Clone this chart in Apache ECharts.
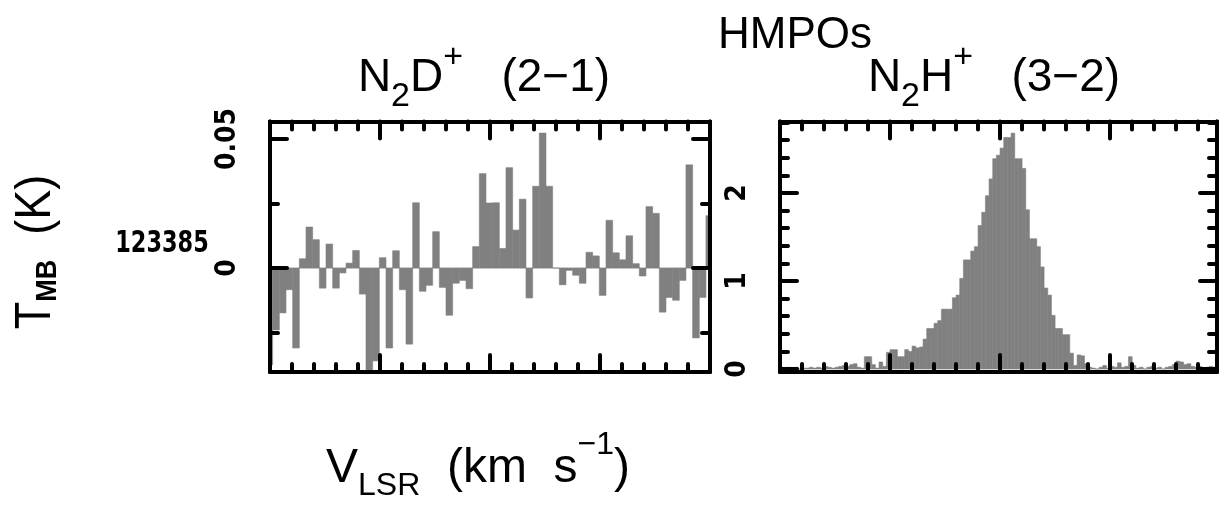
<!DOCTYPE html>
<html>
<head>
<meta charset="utf-8">
<script src="https://cdn.jsdelivr.net/npm/echarts@6/dist/echarts.min.js"></script>
<style>
  html, body { margin: 0; padding: 0; background: #fff; }
  #chart { width: 1227px; height: 506px; }
</style>
</head>
<body>
<div id="chart"></div>
<script>
// N2D+ (2-1) spectrum, one value per channel (K)
const n2dStart = -0.03, n2dStep = 0.303
const n2dVals = [
  -0.0375, -0.0240, -0.0174, -0.0084, -0.0310, 0.0036, 0.0159, 0.0110, -0.0078, 0.0093,
  -0.0078, -0.0019, 0.0019, 0.0068, -0.0101, -0.0400, -0.0360, 0.0040, -0.0310, 0.0067,
  -0.0084, -0.0295, 0.0253, -0.0090, -0.0067, 0.0141, -0.0075, -0.0183, -0.0059, -0.0048,
  -0.0080, 0.0083, 0.0366, 0.0252, 0.0253, 0.0076, 0.0389, 0.0147, 0.0267, -0.0116,
  0.0317, 0.0523, 0.0317, 0.0000, -0.0065, -0.0009, -0.0028, -0.0059, 0.0061, 0.0047,
  -0.0106, 0.0185, 0.0059, 0.0032, 0.0125, 0.0017, -0.0031, 0.0238, 0.0212, -0.0171,
  -0.0114, -0.0125, -0.0048, 0.0400, -0.0271, -0.0114, 0.0203
]
// N2H+ (3-2) spectrum
const n2hStart = 0.083, n2hStep = 0.1667
const n2hVals = [
  0.02, 0.01, 0.02, 0.01, 0.02, 0.00, 0.01, 0.01, 0.02, 0.01,
  0.02, 0.01, 0.03, 0.02, 0.01, 0.02, 0.03, 0.04, 0.03, 0.05,
  0.06, 0.02, 0.01, 0.14, 0.14, 0.05, 0.01, 0.08, 0.03, 0.19,
  0.22, 0.22, 0.14, 0.14, 0.22, 0.20, 0.26, 0.24, 0.25, 0.34,
  0.46, 0.46, 0.52, 0.55, 0.68, 0.68, 0.68, 0.81, 0.84, 1.03,
  1.24, 1.24, 1.34, 1.39, 1.63, 1.78, 1.97, 2.16, 2.39, 2.43,
  2.51, 2.63, 2.63, 2.68, 2.39, 2.39, 2.28, 1.81, 1.48, 1.48,
  1.39, 1.16, 0.92, 0.84, 0.61, 0.46, 0.46, 0.39, 0.39, 0.18,
  0.04, 0.16, 0.15, 0.06, 0.02, 0.01, 0.00, 0.02, 0.04, 0.01,
  0.03, 0.02, 0.07, 0.02, 0.03, 0.14, 0.04, 0.01, 0.02, 0.00,
  0.02, 0.03, 0.01, 0.02, 0.00, 0.02, 0.03, 0.05, 0.09, 0.08,
  0.05, 0.06, 0.03, 0.02, 0.03, 0.01, 0.02, 0.03, 0.02, 0.02
]
// tick values
const n2dMajor = [0, 0.05]
const n2dMinor = [-0.025, 0.025]
const n2hMajor = [0, 1, 2]
const n2hMinor = [0.2, 0.4, 0.6, 0.8, 1.2, 1.4, 1.6, 1.8, 2.2, 2.4, 2.6, 2.8]

const FONT = '"Liberation Sans", Arial, sans-serif'
const NARROW = '"Liberation Sans Narrow", "DejaVu Sans Condensed", "DejaVu Sans", sans-serif'

const chart = echarts.init(document.getElementById('chart'))

function toPoints(start, step, vals) {
  return vals.map((v, i) => [start + i * step, v])
}

function histItem(step) {
  return function (params, api) {
    const x = api.value(0), y = api.value(1)
    const p0 = api.coord([x - step / 2, y])
    const p1 = api.coord([x + step / 2, 0])
    const shape = echarts.graphic.clipRectByRect({
      x: p0[0],
      y: Math.min(p0[1], p1[1]),
      width: p1[0] - p0[0],
      height: Math.abs(p1[1] - p0[1])
    }, {
      x: params.coordSys.x,
      y: params.coordSys.y,
      width: params.coordSys.width,
      height: params.coordSys.height
    })
    return shape && {type: 'rect', shape: shape,
      style: {fill: '#808080', stroke: '#808080', lineWidth: 0.6}}
  }
}

function xAx(grid, pos, max) {
  return {
    type: 'value', gridIndex: grid, position: pos, min: 0, max: max, interval: 5, z: 10,
    axisLine: {show: true, onZero: false, lineStyle: {color: '#000', width: 4}},
    axisTick: {show: true, inside: true, length: 17, lineStyle: {color: '#000', width: 4, cap: 'round'}},
    minorTick: {show: true, splitNumber: 5, length: 8, lineStyle: {color: '#000', width: 4, cap: 'round'}},
    axisLabel: {show: false},
    splitLine: {show: false}
  }
}

function yAx(grid, pos, min, max, ticks, major, labels) {
  return {
    type: 'value', gridIndex: grid, position: pos, min: min, max: max, offset: 0, z: 10,
    axisLine: {show: major, onZero: false, lineStyle: {color: '#000', width: 4}},
    axisTick: {show: true, inside: true, customValues: ticks, length: major ? 17 : 8,
      lineStyle: {color: '#000', width: 4, cap: 'round'}},
    axisLabel: labels ? {
      show: true, customValues: ticks, rotate: 90, margin: 28,
      fontFamily: NARROW, fontWeight: 'bold', fontSize: 28, color: '#000'
    } : {show: false},
    splitLine: {show: false}
  }
}

// main text gets bottom padding so the subscript drops below it,
// the superscript hangs from the top of the line
function richSet(main, sub, pb, lh) {
  return {
    m: {fontFamily: FONT, fontSize: main, lineHeight: lh, verticalAlign: 'bottom',
      padding: [0, 0, pb, 0], fill: '#000'},
    sub: {fontFamily: FONT, fontSize: sub, verticalAlign: 'bottom', fill: '#000'},
    sup: {fontFamily: FONT, fontSize: sub, verticalAlign: 'top', fill: '#000'}
  }
}

const n2dMin = -0.0403, n2dMax = 0.0568
const n2hMin = -0.034, n2hMax = 2.8125

chart.setOption({
  animation: false,
  grid: [
    {left: 270, top: 121.5, width: 440, height: 250.5},
    {left: 780, top: 121.5, width: 437, height: 250.5}
  ],
  xAxis: [
    xAx(0, 'bottom', 20), xAx(0, 'top', 20),
    xAx(1, 'bottom', 19.86), xAx(1, 'top', 19.86)
  ],
  yAxis: [
    yAx(0, 'left', n2dMin, n2dMax, n2dMajor, true, true),
    yAx(0, 'left', n2dMin, n2dMax, n2dMinor, false, false),
    yAx(0, 'right', n2dMin, n2dMax, n2dMajor, true, false),
    yAx(0, 'right', n2dMin, n2dMax, n2dMinor, false, false),
    yAx(1, 'left', n2hMin, n2hMax, n2hMajor, true, true),
    yAx(1, 'left', n2hMin, n2hMax, n2hMinor, false, false),
    yAx(1, 'right', n2hMin, n2hMax, n2hMajor, true, false),
    yAx(1, 'right', n2hMin, n2hMax, n2hMinor, false, false)
  ],
  series: [
    {
      type: 'line', xAxisIndex: 0, yAxisIndex: 0, z: 1, silent: true,
      data: [[0, 0], [20, 0]], symbol: 'none',
      lineStyle: {color: '#d4d4d4', width: 1}
    },
    {
      type: 'custom', xAxisIndex: 0, yAxisIndex: 0, z: 2,
      renderItem: histItem(n2dStep),
      encode: {x: 0, y: 1},
      data: toPoints(n2dStart, n2dStep, n2dVals)
    },
    {
      type: 'custom', xAxisIndex: 2, yAxisIndex: 4, z: 2,
      renderItem: histItem(n2hStep),
      encode: {x: 0, y: 1},
      data: toPoints(n2hStart, n2hStep, n2hVals)
    }
  ],
  graphic: [
    {type: 'text', x: 795, y: 36, style: {text: 'HMPOs', fontFamily: FONT, fontSize: 44,
      fill: '#000', align: 'center', verticalAlign: 'middle'}},
    {type: 'text', x: 484, y: 77, style: {
      text: '{m|N}{sub|2}{m|D}{sup|+}{m|   (2\u22121)}',
      align: 'center', verticalAlign: 'middle', rich: richSet(46, 34, 12, 73)}},
    {type: 'text', x: 994, y: 77, style: {
      text: '{m|N}{sub|2}{m|H}{sup|+}{m|   (3\u22122)}',
      align: 'center', verticalAlign: 'middle', rich: richSet(46, 34, 12, 73)}},
    {type: 'text', x: 162, y: 244, scaleX: 0.83, style: {text: '123385', fontFamily: NARROW,
      fontWeight: 'bold', fontSize: 30, fill: '#000', align: 'center', verticalAlign: 'middle'}},
    {type: 'text', x: 37, y: 252, rotation: Math.PI / 2, scaleX: 0.9, style: {
      text: '{m|T}{sub|MB}{m|  (K)}', align: 'center', verticalAlign: 'middle',
      rich: {
        m: {fontFamily: FONT, fontSize: 50, verticalAlign: 'bottom', padding: [0, 0, 2, 0], fill: '#000'},
        sub: {fontFamily: FONT, fontWeight: 'bold', fontSize: 30, verticalAlign: 'bottom', fill: '#000'}
      }}},
    {type: 'text', x: 478, y: 466, style: {
      text: '{m|V}{sub|LSR}{m|  (km  s}{sup|\u22121}{m|)}',
      align: 'center', verticalAlign: 'middle', rich: richSet(48, 32, 10, 73)}}
  ]
})
</script>
</body>
</html>
